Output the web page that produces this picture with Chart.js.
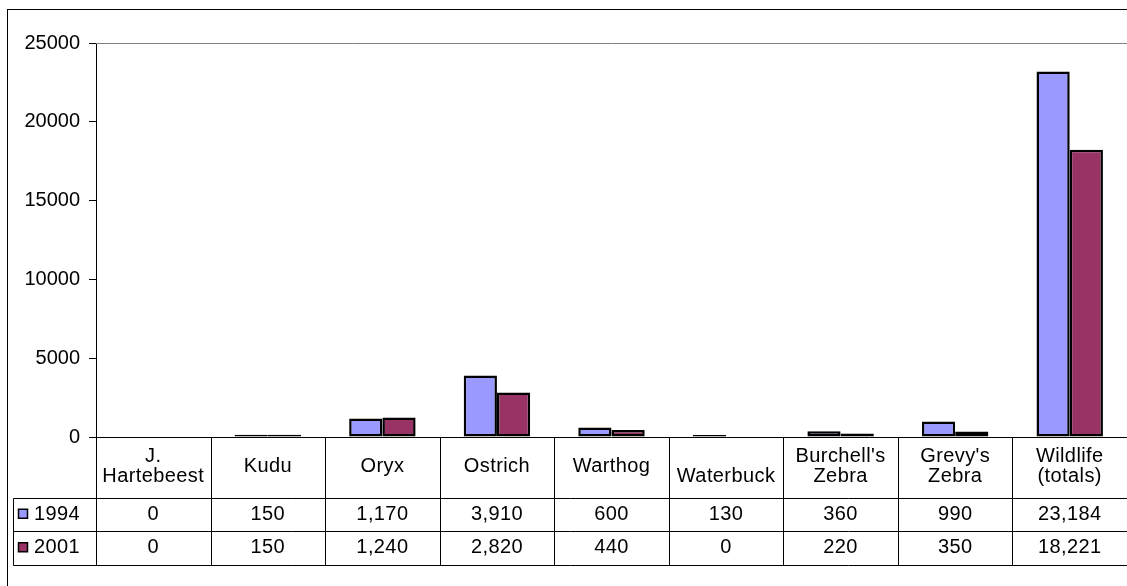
<!DOCTYPE html>
<html lang="en">
<head>
  <meta charset="UTF-8" />
  <title>Wildlife counts 1994 / 2001</title>
  <script src="https://cdn.jsdelivr.net/npm/chart.js"></script>
  <style>
    body { margin: 0; background: white; }
    canvas { display: block; }
  </style>
</head>
<body>
  <canvas id="chart" width="1127" height="586"></canvas>
  <script>
    // data
    const categories = [['J.', 'Hartebeest'], 'Kudu', 'Oryx', 'Ostrich', 'Warthog', ['', 'Waterbuck'],
      ["Burchell's", 'Zebra'], ["Grevy's", 'Zebra'], ['Wildlife', '(totals)']];
    const seriesNames = ['1994', '2001'];
    const values1994 = [0, 150, 1170, 3910, 600, 130, 360, 990, 23184];
    const values2001 = [0, 150, 1240, 2820, 440, 0, 220, 350, 18221];
    const seriesColors = ['#9999FF', '#993366'];
    const yMin = 0, yMax = 25000, yStep = 5000;

    const FONT = '"Liberation Sans", Arial, sans-serif';
    const allValues = [values1994, values2001];

    // frame, plot border and data table under the bars
    const tablePlugin = {
      id: 'dataTable',
      afterDraw(chart) {
        const ctx = chart.ctx;
        const area = chart.chartArea;
        const x = chart.scales.x;
        const w = (area.right - area.left) / categories.length;
        const top = Math.round(area.bottom) + 0.5;
        const headBottom = top + 60;
        const rowH = 33.5;
        const bottom = headBottom + rowH * seriesNames.length;

        ctx.save();
        // outer frame
        ctx.strokeStyle = '#000';
        ctx.lineWidth = 1;
        ctx.strokeRect(7.5, 9.5, chart.width + 20, chart.height + 20);

        // plot area top border
        ctx.strokeStyle = '#808080';
        ctx.beginPath();
        ctx.moveTo(area.left, Math.round(area.top) + 0.5);
        ctx.lineTo(area.right, Math.round(area.top) + 0.5);
        ctx.stroke();

        ctx.strokeStyle = '#000';
        ctx.beginPath();
        ctx.moveTo(area.left, top);
        ctx.lineTo(chart.width, top);
        for (let r = 0; r <= seriesNames.length; r++) {
          const y = Math.round(headBottom + r * rowH) + 0.5;
          ctx.moveTo(13.5, y);
          ctx.lineTo(chart.width, y);
        }
        ctx.moveTo(13.5, Math.round(headBottom) + 0.5);
        ctx.lineTo(13.5, Math.round(bottom) + 0.5);
        for (let i = 0; i <= categories.length; i++) {
          const cx = Math.round(area.left + i * w) + 0.5;
          ctx.moveTo(cx, top);
          ctx.lineTo(cx, Math.round(bottom) + 0.5);
        }
        ctx.stroke();

        ctx.fillStyle = '#000';
        ctx.font = '20px ' + FONT;
        ctx.letterSpacing = '0.4px';
        ctx.textAlign = 'center';
        ctx.textBaseline = 'middle';
        const headMid = (top + headBottom) / 2 - 1;
        categories.forEach((c, i) => {
          const lines = Array.isArray(c) ? c : [c];
          const cx = x.getPixelForValue(i);
          lines.forEach((t, k) => {
            const y = headMid + (k - (lines.length - 1) / 2) * 20;
            ctx.fillText(t, cx, y);
          });
          allValues.forEach((vals, s) => {
            const y = headBottom + rowH * s + rowH / 2;
            ctx.fillText(vals[i].toLocaleString('en-US'), cx, y);
          });
        });

        // legend keys in the first column
        seriesNames.forEach((name, s) => {
          const y = headBottom + rowH * s + rowH / 2;
          ctx.fillStyle = seriesColors[s];
          ctx.fillRect(18.5, y - 5, 9, 9);
          ctx.strokeStyle = '#000';
          ctx.lineWidth = 1.5;
          ctx.strokeRect(18.5, y - 5, 9, 9);
          ctx.fillStyle = '#000';
          ctx.textAlign = 'left';
          ctx.fillText(name, 34, y);
        });
        ctx.restore();
      }
    };

    new Chart(document.getElementById('chart'), {
      type: 'bar',
      data: {
        labels: categories,
        datasets: seriesNames.map((name, s) => ({
          label: name,
          data: allValues[s],
          backgroundColor: seriesColors[s],
          borderColor: '#000',
          borderWidth: 2.5,
          borderSkipped: false,
          categoryPercentage: 0.58,
          barPercentage: 1
        }))
      },
      options: {
        responsive: false,
        devicePixelRatio: 1,
        animation: false,
        layout: { padding: { top: 43, bottom: 149, left: 0, right: 0 } },
        plugins: { legend: { display: false }, tooltip: { enabled: false } },
        scales: {
          x: { display: false },
          y: {
            min: yMin,
            max: yMax,
            afterFit(scale) { scale.width = 96; },
            border: { display: true, color: '#000', width: 1 },
            grid: { drawOnChartArea: false, drawTicks: true, tickLength: 7, tickColor: '#000' },
            ticks: {
              stepSize: yStep,
              padding: 9,
              color: '#000',
              font: { family: FONT, size: 20 },
              callback: v => String(v)
            }
          }
        }
      },
      plugins: [tablePlugin]
    });
  </script>
</body>
</html>
